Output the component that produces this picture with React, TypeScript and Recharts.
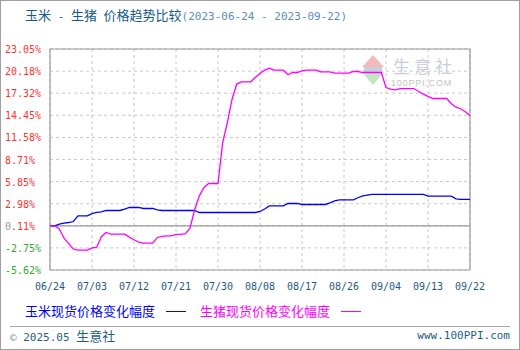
import React from "react";
import {
  LineChart,
  Line,
  XAxis,
  YAxis,
  CartesianGrid,
  ReferenceLine,
  ReferenceArea,
} from "recharts";

// daily change (%) from 2023-06-24, one value per day
const cornChange = [
  0.11, 0.11, 0.33, 0.45, 0.54, 0.67, 1.41, 1.41, 1.41, 1.7, 1.85, 1.93, 2.1,
  2.1, 2.1, 2.1, 2.27, 2.49, 2.49, 2.49, 2.36, 2.36, 2.36, 2.19, 2.1, 2.1, 2.1,
  2.1, 2.1, 2.1, 2.1, 2.1, 1.84, 1.84, 1.84, 1.84, 1.84, 1.84, 1.84, 1.84,
  1.84, 1.84, 1.84, 1.84, 1.84, 1.97, 2.3, 2.7, 2.7, 2.7, 2.7, 3.01, 3.01,
  3.01, 2.88, 2.88, 2.88, 2.88, 2.88, 2.88, 3.1, 3.35, 3.48, 3.48, 3.48, 3.48,
  3.75, 4.0, 4.1, 4.18, 4.18, 4.18, 4.18, 4.18, 4.18, 4.18, 4.18, 4.18, 4.18,
  4.18, 4.18, 3.96, 3.96, 3.96, 3.96, 3.96, 3.96, 3.6, 3.53, 3.53, 3.53,
];

const pigChange = [
  0.11, 0.11, -0.3, -1.5, -2.2, -2.9, -3.05, -3.05, -3.05, -2.75, -2.7, -1.3,
  -0.75, -0.97, -0.97, -0.97, -0.97, -1.35, -1.7, -2.0, -2.14, -2.14, -2.14,
  -1.4, -1.25, -1.19, -1.19, -1.01, -1.01, -0.9, -0.2, 2.2, 4.0, 5.08, 5.6,
  5.6, 5.6, 10.9, 13.5, 16.5, 18.5, 18.79, 18.79, 18.79, 19.35, 19.9, 20.3,
  20.56, 20.3, 20.3, 20.3, 19.7, 20.0, 20.0, 20.2, 20.3, 20.3, 20.3, 20.1,
  20.09, 20.09, 19.91, 19.91, 19.91, 19.91, 20.13, 20.13, 20.0, 20.0, 20.0,
  20.0, 20.0, 18.05, 17.85, 17.75, 17.92, 17.92, 17.92, 17.92, 17.54, 17.19,
  16.9, 16.63, 16.63, 16.63, 16.63, 15.95, 15.5, 15.3, 14.9, 14.4,
];

const xTickDays = [0, 9, 18, 27, 36, 45, 54, 63, 72, 81, 90];
const xTickLabels = [
  "06/24", "07/03", "07/12", "07/21", "07/30", "08/08",
  "08/17", "08/26", "09/04", "09/13", "09/22",
];
const yTicks = [
  -5.62, -2.75, 0.11, 2.98, 5.85, 8.71, 11.58, 14.45, 17.32, 20.18, 23.05,
];

const data = cornChange.map((corn, i) => ({
  day: i,
  corn,
  pig: pigChange[i],
}));

const mono = "'DejaVu Sans Mono', 'Liberation Mono', monospace";
const cjk = "'Noto Sans CJK SC', 'Noto Sans', sans-serif";

function YTick({ y, payload }: any) {
  const v = payload.value as number;
  const label = v.toFixed(2) + "%";
  if (Math.abs(v - 0.11) < 0.001) {
    return (
      <text x={5} y={y} dy={4} fontSize={10} fontFamily={mono}>
        <tspan fill="#999">0</tspan>
        <tspan fill="#ff3333">.11%</tspan>
      </text>
    );
  }
  return (
    <text
      x={5}
      y={y}
      dy={4}
      fontSize={10}
      fontFamily={mono}
      fill={v < 0 ? "#33aa33" : "#ff3333"}
    >
      {label}
    </text>
  );
}

function XTick({ x, y, payload }: any) {
  const idx = xTickDays.indexOf(payload.value);
  return (
    <text
      x={x}
      y={y}
      dy={12}
      textAnchor="middle"
      fontSize={10}
      fontFamily={mono}
      fill="#1f5a80"
    >
      {xTickLabels[idx]}
    </text>
  );
}

export default function App() {
  return (
    <div
      style={{
        position: "relative",
        width: 520,
        height: 350,
        background: "#fff",
        overflow: "hidden",
      }}
    >
      <style>{`body{margin:0}`}</style>

      {/* Title */}
      <div
        style={{
          position: "absolute",
          left: 25,
          top: 6,
          whiteSpace: "pre",
          fontSize: 13,
          lineHeight: "18px",
          color: "#145a86",
        }}
      >
        <span style={{ fontFamily: cjk }}>玉米</span>
        <span style={{ fontFamily: mono, fontSize: 11 }}>{" - "}</span>
        <span style={{ fontFamily: cjk }}>生猪</span>
        <span style={{ fontFamily: mono, fontSize: 11 }}>{" "}</span>
        <span style={{ fontFamily: cjk }}>价格趋势比较</span>
        <span style={{ fontFamily: mono, fontSize: 11, color: "#5b8db8" }}>
          (2023-06-24 - 2023-09-22)
        </span>
      </div>

      {/* Watermark */}
      <div style={{ position: "absolute", left: 362, top: 55 }}>
        <svg width={22} height={30}>
          <polygon points="11,0 22,12 0,12" fill="#f4b8b8" />
          <rect x={2} y={12} width={18} height={5} fill="#c8cde0" />
          <polygon points="0,17 22,17 11,30" fill="#bfe6bf" />
        </svg>
      </div>
      <div
        style={{
          position: "absolute",
          left: 393,
          top: 53,
          fontFamily: cjk,
          fontSize: 17,
          letterSpacing: 4,
          color: "#c8cde0",
          whiteSpace: "nowrap",
        }}
      >
        生意社
      </div>
      <div
        style={{
          position: "absolute",
          left: 391,
          top: 78,
          fontFamily: "'Liberation Sans', sans-serif",
          fontSize: 9,
          letterSpacing: 0.8,
          color: "#c4c4c4",
          whiteSpace: "nowrap",
        }}
      >
        100PPI.COM
      </div>

      <div style={{ position: "absolute", left: 0, top: 0 }}>
        <LineChart
          width={520}
          height={350}
          data={data}
          margin={{ top: 49, right: 50, bottom: 60, left: 5 }}
        >
          <CartesianGrid
            stroke="#c8c8c8"
            strokeDasharray="3 3"
            horizontalValues={yTicks}
            verticalValues={xTickDays}
          />
          <XAxis
            dataKey="day"
            type="number"
            domain={[0, 90]}
            ticks={xTickDays}
            tick={<XTick />}
            height={20}
            axisLine={false}
            tickLine={false}
            allowDataOverflow
          />
          <YAxis
            type="number"
            domain={[-5.62, 23.05]}
            ticks={yTicks}
            tick={<YTick />}
            width={45}
            axisLine={false}
            tickLine={false}
            interval={0}
            allowDataOverflow
          />
          <ReferenceArea
            x1={0}
            x2={90}
            y1={-5.62}
            y2={23.05}
            fill="none"
            stroke="#999"
            strokeWidth={1.2}
            ifOverflow="visible"
          />
          <ReferenceLine y={0.11} stroke="#999" strokeWidth={1.2} />
          <Line
            dataKey="corn"
            stroke="#0000ff"
            strokeWidth={1.3}
            dot={false}
            type="linear"
            isAnimationActive={false}
          />
          <Line
            dataKey="pig"
            stroke="#ff00ff"
            strokeWidth={1.3}
            dot={false}
            type="linear"
            isAnimationActive={false}
          />
        </LineChart>
      </div>

      {/* Legend */}
      <div
        style={{
          position: "absolute",
          left: 25,
          top: 302,
          fontFamily: cjk,
          fontSize: 13,
          lineHeight: "18px",
          whiteSpace: "nowrap",
          color: "#0000ff",
        }}
      >
        玉米现货价格变化幅度
      </div>
      <div
        style={{
          position: "absolute",
          left: 166,
          top: 311,
          width: 20,
          height: 1,
          background: "#0000ff",
        }}
      />
      <div
        style={{
          position: "absolute",
          left: 200,
          top: 302,
          fontFamily: cjk,
          fontSize: 13,
          lineHeight: "18px",
          whiteSpace: "nowrap",
          color: "#ff00ff",
        }}
      >
        生猪现货价格变化幅度
      </div>
      <div
        style={{
          position: "absolute",
          left: 341,
          top: 311,
          width: 20,
          height: 1,
          background: "#ff00ff",
        }}
      />

      {/* Footer */}
      <div
        style={{
          position: "absolute",
          left: 10,
          top: 326,
          width: 500,
          height: 1,
          background: "#a8a8a8",
        }}
      />
      <div
        style={{
          position: "absolute",
          left: 10,
          top: 327,
          fontSize: 11,
          lineHeight: "18px",
          whiteSpace: "nowrap",
          color: "#1f5f7f",
        }}
      >
        <span style={{ fontFamily: mono, color: "#8aa0b0" }}>© </span>
        <span style={{ fontFamily: mono }}>2025.05 </span>
        <span style={{ fontFamily: cjk, fontSize: 13 }}>生意社</span>
      </div>
      <div
        style={{
          position: "absolute",
          right: 10,
          top: 327,
          fontFamily: mono,
          fontSize: 11,
          lineHeight: "18px",
          color: "#1f5f7f",
        }}
      >
        www.100PPI.com
      </div>

      {/* Outer frame */}
      <div
        style={{
          position: "absolute",
          left: 0,
          top: 0,
          width: 520,
          height: 350,
          boxSizing: "border-box",
          border: "1px solid #a0a0a0",
          pointerEvents: "none",
        }}
      />
    </div>
  );
}
